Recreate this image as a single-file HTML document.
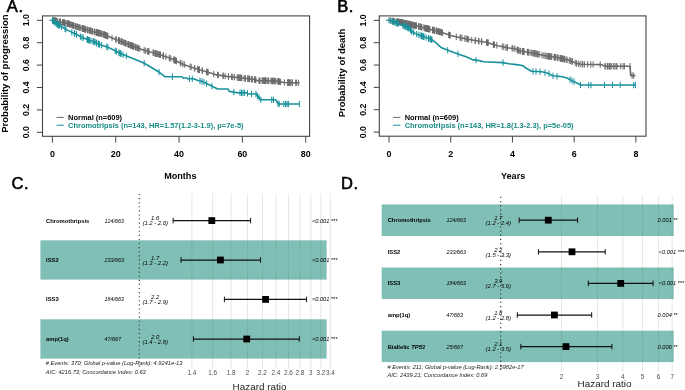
<!DOCTYPE html>
<html><head><meta charset="utf-8"><style>html,body{margin:0;padding:0;background:#fff;overflow:hidden;}svg{display:block;filter:blur(0.3px);}</style></head>
<body>
<svg width="685" height="390" viewBox="0 0 685 390" font-family='"Liberation Sans", sans-serif'>
<rect width="685" height="390" fill="#fff"/>
<rect x="42.5" y="15.9" width="267.1" height="120.4" fill="none" stroke="#444" stroke-width="1.1"/>
<line x1="36.9" y1="132.3" x2="42.5" y2="132.3" stroke="#444" stroke-width="1"/>
<text x="28.6" y="132.3" font-size="8.7" font-weight="bold" font-style="normal" text-anchor="middle" fill="#000" transform="rotate(-90 28.6 132.3)">0.0</text>
<line x1="36.9" y1="109.9" x2="42.5" y2="109.9" stroke="#444" stroke-width="1"/>
<text x="28.6" y="109.9" font-size="8.7" font-weight="bold" font-style="normal" text-anchor="middle" fill="#000" transform="rotate(-90 28.6 109.9)">0.2</text>
<line x1="36.9" y1="87.50000000000001" x2="42.5" y2="87.50000000000001" stroke="#444" stroke-width="1"/>
<text x="28.6" y="87.50000000000001" font-size="8.7" font-weight="bold" font-style="normal" text-anchor="middle" fill="#000" transform="rotate(-90 28.6 87.50000000000001)">0.4</text>
<line x1="36.9" y1="65.10000000000002" x2="42.5" y2="65.10000000000002" stroke="#444" stroke-width="1"/>
<text x="28.6" y="65.10000000000002" font-size="8.7" font-weight="bold" font-style="normal" text-anchor="middle" fill="#000" transform="rotate(-90 28.6 65.10000000000002)">0.6</text>
<line x1="36.9" y1="42.70000000000002" x2="42.5" y2="42.70000000000002" stroke="#444" stroke-width="1"/>
<text x="28.6" y="42.70000000000002" font-size="8.7" font-weight="bold" font-style="normal" text-anchor="middle" fill="#000" transform="rotate(-90 28.6 42.70000000000002)">0.8</text>
<line x1="36.9" y1="20.30000000000001" x2="42.5" y2="20.30000000000001" stroke="#444" stroke-width="1"/>
<text x="28.6" y="20.30000000000001" font-size="8.7" font-weight="bold" font-style="normal" text-anchor="middle" fill="#000" transform="rotate(-90 28.6 20.30000000000001)">1.0</text>
<line x1="52.4" y1="136.3" x2="52.4" y2="142.60000000000002" stroke="#444" stroke-width="1"/>
<text x="52.4" y="156.8" font-size="8.9" font-weight="bold" font-style="normal" text-anchor="middle" fill="#000">0</text>
<line x1="115.72999999999999" y1="136.3" x2="115.72999999999999" y2="142.60000000000002" stroke="#444" stroke-width="1"/>
<text x="115.72999999999999" y="156.8" font-size="8.9" font-weight="bold" font-style="normal" text-anchor="middle" fill="#000">20</text>
<line x1="179.06" y1="136.3" x2="179.06" y2="142.60000000000002" stroke="#444" stroke-width="1"/>
<text x="179.06" y="156.8" font-size="8.9" font-weight="bold" font-style="normal" text-anchor="middle" fill="#000">40</text>
<line x1="242.39000000000001" y1="136.3" x2="242.39000000000001" y2="142.60000000000002" stroke="#444" stroke-width="1"/>
<text x="242.39000000000001" y="156.8" font-size="8.9" font-weight="bold" font-style="normal" text-anchor="middle" fill="#000">60</text>
<line x1="305.71999999999997" y1="136.3" x2="305.71999999999997" y2="142.60000000000002" stroke="#444" stroke-width="1"/>
<text x="305.71999999999997" y="156.8" font-size="8.9" font-weight="bold" font-style="normal" text-anchor="middle" fill="#000">80</text>
<text x="6.8" y="11.8" font-size="16.5" font-weight="normal" font-style="normal" text-anchor="start" fill="#000" stroke="#000" stroke-width="0.6" letter-spacing="0.6">A.</text>
<text x="180.3" y="179.2" font-size="9.1" font-weight="bold" font-style="normal" text-anchor="middle" fill="#000">Months</text>
<text x="7.6" y="73.6" font-size="9.5" font-weight="bold" font-style="normal" text-anchor="middle" fill="#000" transform="rotate(-90 7.6 73.6)">Probability of progression</text>
<line x1="49.4" y1="20.3" x2="52.4" y2="20.3" stroke="#17919b" stroke-width="1.2"/>
<line x1="52.4" y1="17.3" x2="52.4" y2="23.3" stroke="#17919b" stroke-width="1"/>
<polyline points="52.4,20.3 58.5,21.5 67.4,23.4 76.4,26.6 85.4,29.3 94.3,31.9 103.3,34.3 114.6,38.9 129.2,44.7 143.8,50.3 158.4,54.2 173.0,59.3 180.8,63.2 187.6,65.9 199.3,69.8 209.6,72.8 215.4,74.6 226.9,76.4 244.2,78.3 255.0,79.6 257.3,80.6 274.6,81.0 278.1,81.4 283.8,82.5 299.4,82.9" fill="none" stroke="#6b6b6b" stroke-width="1.6" stroke-linejoin="round"/>
<path d="M64.6 19.6v6.4 M80.8 24.7v6.4 M71.6 21.7v6.4 M84.0 25.7v6.4 M85.2 26.0v6.4 M55.5 17.7v6.4 M52.7 17.2v6.4 M96.4 29.3v6.4 M65.7 19.8v6.4 M64.4 19.6v6.4 M104.8 31.7v6.4 M76.9 23.6v6.4 M96.3 29.2v6.4 M77.2 23.7v6.4 M85.9 26.2v6.4 M60.0 18.6v6.4 M85.6 26.2v6.4 M98.0 29.7v6.4 M79.7 24.4v6.4 M91.3 27.8v6.4 M87.6 26.7v6.4 M55.4 17.7v6.4 M92.2 28.1v6.4 M83.3 25.5v6.4 M68.0 20.4v6.4 M53.6 17.3v6.4 M97.9 29.7v6.4 M77.1 23.6v6.4 M90.1 27.5v6.4 M98.6 29.8v6.4 M89.8 27.4v6.4 M100.8 30.4v6.4 M72.9 22.2v6.4 M94.4 28.7v6.4 M75.6 23.1v6.4 M101.6 30.6v6.4 M98.6 29.8v6.4 M57.2 18.0v6.4 M59.2 18.5v6.4 M63.5 19.4v6.4 M103.2 31.1v6.4 M75.1 22.9v6.4 M85.2 26.0v6.4 M68.0 20.4v6.4 M78.9 24.1v6.4 M72.5 22.0v6.4 M70.6 21.3v6.4 M83.0 25.4v6.4 M83.0 25.4v6.4 M99.9 30.2v6.4 M88.1 26.9v6.4 M101.2 30.5v6.4 M97.4 29.5v6.4 M104.5 31.6v6.4 M87.6 26.7v6.4 M60.6 18.8v6.4 M97.6 29.6v6.4 M103.1 31.1v6.4 M99.9 30.2v6.4 M82.2 25.1v6.4 M89.8 27.4v6.4 M63.2 19.3v6.4 M96.1 29.2v6.4 M82.4 25.2v6.4 M67.1 20.1v6.4 M55.4 17.7v6.4 M97.3 29.5v6.4 M104.5 31.6v6.4 M56.7 17.9v6.4 M94.4 28.7v6.4 M73.8 22.5v6.4 M60.0 18.6v6.4 M67.6 20.3v6.4 M92.7 28.2v6.4 M98.3 29.8v6.4 M54.3 17.5v6.4 M84.6 25.9v6.4 M54.4 17.5v6.4 M90.1 27.5v6.4 M69.5 21.0v6.4 M98.7 29.9v6.4 M104.0 31.4v6.4 M78.8 24.1v6.4 M104.9 31.8v6.4 M68.4 20.6v6.4 M56.1 17.8v6.4 M83.8 25.6v6.4 M53.7 17.3v6.4 M62.5 19.1v6.4 M73.6 22.4v6.4 M132.5 42.8v6.4 M112.0 34.7v6.4 M106.9 32.6v6.4 M144.1 47.2v6.4 M119.1 37.5v6.4 M148.1 48.3v6.4 M145.3 47.5v6.4 M122.0 38.6v6.4 M125.7 40.1v6.4 M128.4 41.2v6.4 M134.0 43.3v6.4 M131.8 42.5v6.4 M130.2 41.9v6.4 M132.9 42.9v6.4 M147.3 48.0v6.4 M127.8 41.0v6.4 M124.4 39.6v6.4 M137.4 44.7v6.4 M115.7 36.1v6.4 M118.5 37.3v6.4 M149.0 48.5v6.4 M128.5 41.2v6.4 M129.7 41.7v6.4 M105.5 32.0v6.4 M123.7 39.3v6.4 M131.1 42.2v6.4 M105.9 32.2v6.4 M132.7 42.8v6.4 M133.4 43.1v6.4 M107.7 32.9v6.4 M133.2 43.0v6.4 M126.0 40.2v6.4 M135.6 43.9v6.4 M120.9 38.2v6.4 M136.8 44.4v6.4 M138.2 45.0v6.4 M106.0 32.2v6.4 M107.7 32.9v6.4 M135.4 43.9v6.4 M148.3 48.3v6.4 M116.3 36.4v6.4 M125.5 40.0v6.4 M131.7 42.4v6.4 M119.4 37.6v6.4 M121.4 38.4v6.4 M119.1 37.5v6.4 M121.6 38.5v6.4 M131.8 42.5v6.4 M118.5 37.3v6.4 M122.0 38.6v6.4 M139.8 45.5v6.4 M106.2 32.3v6.4 M130.6 42.0v6.4 M138.1 44.9v6.4 M119.0 37.4v6.4 M156.7 50.5v6.4 M174.1 56.7v6.4 M157.2 50.7v6.4 M155.6 50.3v6.4 M163.1 52.6v6.4 M170.9 55.4v6.4 M153.1 49.6v6.4 M159.7 51.4v6.4 M160.0 51.6v6.4 M175.0 57.1v6.4 M163.2 52.7v6.4 M175.7 57.4v6.4 M155.1 50.1v6.4 M160.1 51.6v6.4 M169.5 54.9v6.4 M176.5 57.9v6.4 M163.5 52.8v6.4 M156.8 50.6v6.4 M153.6 49.7v6.4 M165.9 53.6v6.4 M155.7 50.3v6.4 M174.2 56.7v6.4 M175.2 57.2v6.4 M155.5 50.2v6.4 M158.4 51.0v6.4 M174.2 56.7v6.4 M169.3 54.8v6.4 M174.2 56.7v6.4 M160.4 51.7v6.4 M153.9 49.8v6.4 M199.0 66.5v6.4 M231.6 73.7v6.4 M197.6 66.0v6.4 M202.5 67.5v6.4 M207.1 68.9v6.4 M207.3 68.9v6.4 M206.6 68.7v6.4 M239.8 74.6v6.4 M190.1 63.5v6.4 M180.3 59.8v6.4 M241.3 74.8v6.4 M237.2 74.3v6.4 M244.1 75.1v6.4 M208.2 69.2v6.4 M241.8 74.8v6.4 M240.3 74.7v6.4 M194.4 65.0v6.4 M228.5 73.4v6.4 M234.4 74.0v6.4 M223.1 72.6v6.4 M213.7 70.9v6.4 M198.8 66.4v6.4 M202.2 67.4v6.4 M194.8 65.1v6.4 M184.4 61.4v6.4 M218.3 71.8v6.4 M198.7 66.4v6.4 M232.7 73.8v6.4 M182.9 60.8v6.4 M238.7 74.5v6.4 M225.1 72.9v6.4 M240.1 74.6v6.4 M238.3 74.4v6.4 M238.5 74.5v6.4 M217.5 71.7v6.4 M180.9 60.0v6.4 M228.4 73.4v6.4 M191.2 63.9v6.4 M199.5 66.7v6.4 M223.1 72.6v6.4 M273.9 77.8v6.4 M267.8 77.6v6.4 M296.6 79.6v6.4 M278.7 78.3v6.4 M263.8 77.5v6.4 M258.9 77.4v6.4 M292.4 79.5v6.4 M271.2 77.7v6.4 M288.0 79.4v6.4 M264.4 77.6v6.4 M255.9 76.8v6.4 M274.4 77.8v6.4 M289.9 79.5v6.4 M254.4 76.3v6.4 M288.5 79.4v6.4 M295.7 79.6v6.4 M289.3 79.4v6.4 M290.3 79.5v6.4 M245.4 75.2v6.4 M279.6 78.5v6.4 M292.4 79.5v6.4 M247.7 75.5v6.4 M259.9 77.5v6.4 M259.8 77.5v6.4 M274.0 77.8v6.4 M268.3 77.7v6.4 M271.0 77.7v6.4 M287.7 79.4v6.4 M245.1 75.2v6.4 M248.0 75.6v6.4 M252.0 76.0v6.4 M251.9 76.0v6.4 M248.8 75.6v6.4 M298.6 79.7v6.4 M292.0 79.5v6.4 M249.7 75.8v6.4 M272.6 77.8v6.4 M262.4 77.5v6.4 M262.3 77.5v6.4 M264.3 77.6v6.4 M280.6 78.7v6.4 M277.3 78.1v6.4 M264.8 77.6v6.4 M255.5 76.6v6.4 M263.1 77.5v6.4 M251.8 76.0v6.4 M275.6 77.9v6.4 M284.4 79.3v6.4 M265.9 77.6v6.4 M249.4 75.7v6.4 M254.8 76.4v6.4 M265.5 77.6v6.4 M278.2 78.2v6.4 M288.0 79.4v6.4 M265.9 77.6v6.4 M289.1 79.4v6.4 M279.3 78.4v6.4 M268.7 77.7v6.4 M265.5 77.6v6.4 M272.3 77.7v6.4" stroke="#6b6b6b" stroke-width="1.0" fill="none"/>
<polyline points="52.4,20.4 54.0,21.9 58.5,25.1 62.9,27.5 67.4,30.1 71.9,32.4 76.4,34.2 80.9,36.9 85.4,38.7 89.8,40.5 94.3,41.8 98.8,44.1 102.4,45.5 107.3,46.9 114.6,50.5 121.9,54.2 129.2,57.1 136.5,60.0 143.8,63.0 151.1,67.3 158.4,71.7 162.8,74.8 165.0,76.8 181.9,76.8 183.1,78.0 186.5,78.0 187.7,78.8 193.5,78.8 198.1,80.4 202.7,81.6 206.1,83.3 209.6,85.0 213.1,86.7 217.7,89.0 228.1,89.0 229.2,91.4 236.1,92.5 238.4,92.9 246.9,92.8 248.1,94.0 256.1,94.0 257.3,95.8 259.6,98.1 260.8,99.8 275.8,99.8 276.9,101.9 278.1,104.0 299.4,104.0" fill="none" stroke="#17919b" stroke-width="1.6" stroke-linejoin="round"/>
<path d="M89.3 37.1v6.4 M74.3 30.2v6.4 M88.8 36.9v6.4 M76.4 31.0v6.4 M65.0 25.5v6.4 M80.4 33.4v6.4 M88.8 36.9v6.4 M55.8 20.0v6.4 M74.5 30.2v6.4 M74.6 30.3v6.4 M98.6 40.8v6.4 M101.6 42.0v6.4 M71.8 29.2v6.4 M99.6 41.2v6.4 M93.9 38.5v6.4 M65.9 26.0v6.4 M76.6 31.1v6.4 M58.5 21.9v6.4 M95.1 39.0v6.4 M87.1 36.2v6.4 M99.0 41.0v6.4 M94.0 38.5v6.4 M87.4 36.3v6.4 M90.9 37.6v6.4 M81.9 34.1v6.4 M57.5 21.2v6.4 M83.2 34.6v6.4 M52.7 17.5v6.4 M59.6 22.5v6.4 M93.0 38.2v6.4 M54.3 18.9v6.4 M56.9 20.7v6.4 M57.3 21.0v6.4 M98.7 40.8v6.4 M61.5 23.5v6.4 M53.2 18.0v6.4 M96.6 39.8v6.4 M58.4 21.8v6.4 M96.7 39.8v6.4 M87.7 36.4v6.4 M121.1 50.6v6.4 M123.1 51.5v6.4 M116.4 48.2v6.4 M120.4 50.2v6.4 M106.7 43.5v6.4 M119.8 49.9v6.4 M115.2 47.6v6.4 M118.9 49.5v6.4 M107.9 44.0v6.4 M126.3 52.7v6.4 M144.2 60.0v6.4 M159.0 68.9v6.4 M172.4 73.6v6.4 M189.4 75.6v6.4 M192.3 75.6v6.4 M200.0 77.7v6.4 M202.0 78.2v6.4 M204.0 79.0v6.4 M206.5 80.3v6.4 M211.9 82.9v6.4 M233.8 88.9v6.4 M240.0 89.7v6.4 M241.5 89.7v6.4 M243.0 89.6v6.4 M244.6 89.6v6.4 M247.5 90.2v6.4 M251.5 90.8v6.4 M256.0 90.8v6.4 M257.5 92.8v6.4 M259.0 94.3v6.4 M260.8 96.6v6.4 M271.7 96.6v6.4 M273.4 96.6v6.4 M278.0 100.6v6.4 M279.2 100.8v6.4 M283.8 100.8v6.4 M285.5 100.8v6.4 M287.0 100.8v6.4 M288.4 100.8v6.4 M299.4 100.8v6.4" stroke="#17919b" stroke-width="1.0" fill="none"/>
<line x1="56.599999999999994" y1="117.4" x2="63.8" y2="117.4" stroke="#6b6b6b" stroke-width="1"/>
<line x1="56.599999999999994" y1="125.2" x2="63.8" y2="125.2" stroke="#17919b" stroke-width="1"/>
<text x="68.1" y="120.3" font-size="7.45" font-weight="bold" font-style="normal" text-anchor="start" fill="#000">Normal (n=609)</text>
<text x="68.1" y="128.1" font-size="7.45" font-weight="bold" font-style="normal" text-anchor="start" fill="#178a84">Chromotripsis (n=143, HR=1.57(1.2-3-1.9), p=7e-5)</text>
<rect x="379.3" y="15.9" width="266.7" height="120.29999999999998" fill="none" stroke="#444" stroke-width="1.1"/>
<line x1="373.7" y1="132.1" x2="379.3" y2="132.1" stroke="#444" stroke-width="1"/>
<text x="365.8" y="132.1" font-size="8.7" font-weight="bold" font-style="normal" text-anchor="middle" fill="#000" transform="rotate(-90 365.8 132.1)">0.0</text>
<line x1="373.7" y1="109.75" x2="379.3" y2="109.75" stroke="#444" stroke-width="1"/>
<text x="365.8" y="109.75" font-size="8.7" font-weight="bold" font-style="normal" text-anchor="middle" fill="#000" transform="rotate(-90 365.8 109.75)">0.2</text>
<line x1="373.7" y1="87.39999999999999" x2="379.3" y2="87.39999999999999" stroke="#444" stroke-width="1"/>
<text x="365.8" y="87.39999999999999" font-size="8.7" font-weight="bold" font-style="normal" text-anchor="middle" fill="#000" transform="rotate(-90 365.8 87.39999999999999)">0.4</text>
<line x1="373.7" y1="65.04999999999998" x2="379.3" y2="65.04999999999998" stroke="#444" stroke-width="1"/>
<text x="365.8" y="65.04999999999998" font-size="8.7" font-weight="bold" font-style="normal" text-anchor="middle" fill="#000" transform="rotate(-90 365.8 65.04999999999998)">0.6</text>
<line x1="373.7" y1="42.69999999999999" x2="379.3" y2="42.69999999999999" stroke="#444" stroke-width="1"/>
<text x="365.8" y="42.69999999999999" font-size="8.7" font-weight="bold" font-style="normal" text-anchor="middle" fill="#000" transform="rotate(-90 365.8 42.69999999999999)">0.8</text>
<line x1="373.7" y1="20.349999999999994" x2="379.3" y2="20.349999999999994" stroke="#444" stroke-width="1"/>
<text x="365.8" y="20.349999999999994" font-size="8.7" font-weight="bold" font-style="normal" text-anchor="middle" fill="#000" transform="rotate(-90 365.8 20.349999999999994)">1.0</text>
<line x1="389.0" y1="136.2" x2="389.0" y2="142.5" stroke="#444" stroke-width="1"/>
<text x="389.0" y="156.8" font-size="8.9" font-weight="bold" font-style="normal" text-anchor="middle" fill="#000">0</text>
<line x1="450.72" y1="136.2" x2="450.72" y2="142.5" stroke="#444" stroke-width="1"/>
<text x="450.72" y="156.8" font-size="8.9" font-weight="bold" font-style="normal" text-anchor="middle" fill="#000">2</text>
<line x1="512.44" y1="136.2" x2="512.44" y2="142.5" stroke="#444" stroke-width="1"/>
<text x="512.44" y="156.8" font-size="8.9" font-weight="bold" font-style="normal" text-anchor="middle" fill="#000">4</text>
<line x1="574.16" y1="136.2" x2="574.16" y2="142.5" stroke="#444" stroke-width="1"/>
<text x="574.16" y="156.8" font-size="8.9" font-weight="bold" font-style="normal" text-anchor="middle" fill="#000">6</text>
<line x1="635.88" y1="136.2" x2="635.88" y2="142.5" stroke="#444" stroke-width="1"/>
<text x="635.88" y="156.8" font-size="8.9" font-weight="bold" font-style="normal" text-anchor="middle" fill="#000">8</text>
<text x="337.2" y="11.8" font-size="16.5" font-weight="normal" font-style="normal" text-anchor="start" fill="#000" stroke="#000" stroke-width="0.6" letter-spacing="0.6">B.</text>
<text x="513.1" y="179.2" font-size="9.1" font-weight="bold" font-style="normal" text-anchor="middle" fill="#000">Years</text>
<text x="345.0" y="73.0" font-size="9.5" font-weight="bold" font-style="normal" text-anchor="middle" fill="#000" transform="rotate(-90 345.0 73.0)">Probability of death</text>
<line x1="386" y1="20.3" x2="389" y2="20.3" stroke="#17919b" stroke-width="1.2"/>
<line x1="389" y1="17.3" x2="389" y2="23.3" stroke="#17919b" stroke-width="1"/>
<polyline points="389.0,20.3 399.9,22.2 408.9,24.0 417.9,26.2 426.8,28.5 435.8,30.7 442.0,32.5 451.5,35.8 463.1,38.2 474.6,40.5 486.1,42.3 497.7,45.7 509.2,48.0 514.2,48.6 520.0,51.0 528.1,52.2 537.3,54.0 545.4,55.8 556.9,57.5 565.0,59.3 571.9,61.3 576.4,63.4 580.9,64.2 601.5,64.6 605.0,66.3 630.1,66.3 630.7,75.6 635.4,75.6" fill="none" stroke="#6b6b6b" stroke-width="1.6" stroke-linejoin="round"/>
<path d="M428.7 25.8v6.4 M438.5 28.3v6.4 M392.2 17.7v6.4 M406.2 20.3v6.4 M418.9 23.3v6.4 M432.9 26.8v6.4 M401.8 19.4v6.4 M398.5 18.8v6.4 M402.2 19.5v6.4 M421.6 24.0v6.4 M428.9 25.8v6.4 M409.9 21.0v6.4 M408.5 20.7v6.4 M410.0 21.1v6.4 M407.6 20.5v6.4 M411.2 21.4v6.4 M393.4 17.9v6.4 M415.5 22.4v6.4 M440.6 28.9v6.4 M410.9 21.3v6.4 M428.6 25.7v6.4 M397.5 18.6v6.4 M425.6 25.0v6.4 M429.1 25.9v6.4 M424.7 24.8v6.4 M416.4 22.6v6.4 M414.6 22.2v6.4 M423.1 24.3v6.4 M436.6 27.7v6.4 M396.9 18.5v6.4 M394.1 18.0v6.4 M428.7 25.8v6.4 M437.6 28.0v6.4 M416.4 22.6v6.4 M412.5 21.7v6.4 M427.1 25.4v6.4 M398.9 18.8v6.4 M403.2 19.7v6.4 M399.6 18.9v6.4 M420.0 23.6v6.4 M405.7 20.2v6.4 M401.3 19.3v6.4 M425.6 25.0v6.4 M439.5 28.6v6.4 M404.7 20.0v6.4 M426.4 25.2v6.4 M410.9 21.3v6.4 M434.2 27.1v6.4 M420.0 23.5v6.4 M403.2 19.7v6.4 M400.5 19.1v6.4 M390.2 17.3v6.4 M414.4 22.1v6.4 M409.3 20.9v6.4 M398.1 18.7v6.4 M408.1 20.6v6.4 M406.1 20.2v6.4 M430.0 26.1v6.4 M396.6 18.4v6.4 M441.5 29.2v6.4 M414.4 22.1v6.4 M420.7 23.7v6.4 M413.8 22.0v6.4 M433.2 26.9v6.4 M432.5 26.7v6.4 M418.5 23.2v6.4 M414.5 22.2v6.4 M427.2 25.4v6.4 M434.4 27.2v6.4 M410.2 21.1v6.4 M427.9 25.6v6.4 M439.9 28.7v6.4 M413.8 22.0v6.4 M401.2 19.3v6.4 M401.4 19.3v6.4 M427.0 25.4v6.4 M424.8 24.8v6.4 M439.8 28.7v6.4 M434.3 27.1v6.4 M401.8 19.4v6.4 M399.1 18.9v6.4 M402.7 19.6v6.4 M398.9 18.8v6.4 M426.4 25.2v6.4 M434.5 27.2v6.4 M436.7 27.8v6.4 M402.5 19.5v6.4 M434.9 27.3v6.4 M405.6 20.1v6.4 M411.4 21.4v6.4 M427.6 25.5v6.4 M393.6 17.9v6.4 M393.9 18.0v6.4 M433.2 26.9v6.4 M404.5 19.9v6.4 M466.3 35.6v6.4 M481.5 38.4v6.4 M487.9 39.6v6.4 M442.5 29.5v6.4 M464.8 35.3v6.4 M471.7 36.7v6.4 M475.0 37.4v6.4 M456.3 33.6v6.4 M481.8 38.4v6.4 M507.0 44.4v6.4 M468.6 36.1v6.4 M479.0 38.0v6.4 M450.1 32.1v6.4 M460.7 34.5v6.4 M487.2 39.4v6.4 M449.7 32.0v6.4 M502.3 43.4v6.4 M503.8 43.7v6.4 M448.6 31.6v6.4 M506.0 44.2v6.4 M467.4 35.9v6.4 M494.5 41.6v6.4 M493.5 41.3v6.4 M462.1 34.8v6.4 M488.0 39.6v6.4 M486.5 39.2v6.4 M496.8 42.2v6.4 M460.1 34.4v6.4 M493.3 41.2v6.4 M507.4 44.4v6.4 M487.8 39.6v6.4 M478.5 37.9v6.4 M449.7 32.0v6.4 M475.6 37.5v6.4 M534.7 50.3v6.4 M560.3 55.0v6.4 M557.5 54.4v6.4 M549.6 53.2v6.4 M522.7 48.2v6.4 M555.2 54.0v6.4 M554.2 53.9v6.4 M522.5 48.2v6.4 M572.3 58.3v6.4 M555.9 54.1v6.4 M518.6 47.2v6.4 M575.2 59.7v6.4 M519.9 47.8v6.4 M533.2 50.0v6.4 M560.4 55.1v6.4 M551.8 53.5v6.4 M548.8 53.1v6.4 M555.3 54.1v6.4 M542.0 51.9v6.4 M531.9 49.7v6.4 M522.3 48.1v6.4 M514.8 45.6v6.4 M560.1 55.0v6.4 M562.8 55.6v6.4 M548.0 53.0v6.4 M561.8 55.4v6.4 M535.1 50.4v6.4 M528.6 49.1v6.4 M536.8 50.7v6.4 M571.1 57.9v6.4 M512.9 45.2v6.4 M545.3 52.6v6.4 M527.3 48.9v6.4 M563.8 55.8v6.4 M534.8 50.3v6.4 M533.3 50.0v6.4 M538.2 51.0v6.4 M547.9 53.0v6.4 M564.0 55.9v6.4 M534.7 50.3v6.4 M569.3 57.3v6.4 M517.8 46.9v6.4 M528.9 49.2v6.4 M517.0 46.5v6.4 M517.9 46.9v6.4 M564.5 56.0v6.4 M560.9 55.2v6.4 M522.9 48.2v6.4 M523.2 48.3v6.4 M539.2 51.2v6.4 M562.0 55.4v6.4 M567.1 56.7v6.4 M562.4 55.5v6.4 M551.4 53.5v6.4 M520.3 47.8v6.4 M537.9 50.9v6.4 M523.6 48.3v6.4 M546.9 52.8v6.4 M549.8 53.2v6.4 M524.1 48.4v6.4 M527.5 48.9v6.4 M564.7 56.0v6.4 M512.1 45.1v6.4 M566.2 56.5v6.4 M572.4 58.3v6.4 M576.5 60.2v6.4 M536.8 50.7v6.4 M548.7 53.1v6.4 M550.8 53.4v6.4 M554.4 53.9v6.4 M578.4 60.6v6.4 M558.1 54.6v6.4 M531.0 49.6v6.4 M570.2 57.6v6.4 M543.9 52.3v6.4 M613.7 63.1v6.4 M620.7 63.1v6.4 M580.1 60.9v6.4 M623.1 63.1v6.4 M617.1 63.1v6.4 M607.5 63.1v6.4 M609.3 63.1v6.4 M605.8 63.1v6.4 M590.8 61.2v6.4 M609.7 63.1v6.4 M582.1 61.0v6.4 M608.0 63.1v6.4 M616.2 63.1v6.4 M604.9 63.0v6.4 M611.7 63.1v6.4 M633.7 72.4v6.4 M630.0 63.1v6.4 M587.6 61.1v6.4 M624.4 63.1v6.4 M614.9 63.1v6.4 M582.8 61.0v6.4 M600.2 61.4v6.4 M593.1 61.2v6.4 M584.4 61.1v6.4 M610.2 63.1v6.4 M632.1 72.4v6.4" stroke="#6b6b6b" stroke-width="1.0" fill="none"/>
<polyline points="389.0,20.4 391.0,21.0 395.5,22.6 399.9,24.4 404.4,26.2 408.9,28.2 411.6,31.3 416.1,33.9 422.4,36.2 428.6,38.4 432.2,39.8 435.8,42.7 441.0,47.4 449.2,50.8 457.3,53.7 465.4,56.5 472.3,59.6 479.2,60.6 483.8,61.7 502.3,62.6 509.2,63.7 516.5,64.6 522.3,65.5 526.3,68.3 531.5,71.3 541.9,71.8 548.8,73.6 552.3,75.8 562.7,76.8 567.4,78.2 571.9,80.6 576.4,82.8 580.5,85.0 635.4,85.0" fill="none" stroke="#17919b" stroke-width="1.6" stroke-linejoin="round"/>
<path d="M403.9 22.8v6.4 M429.0 35.4v6.4 M421.0 32.5v6.4 M395.2 19.3v6.4 M428.5 35.2v6.4 M416.7 30.9v6.4 M431.6 36.4v6.4 M421.9 32.8v6.4 M423.0 33.2v6.4 M404.8 23.2v6.4 M426.1 34.3v6.4 M431.9 36.5v6.4 M428.6 35.2v6.4 M409.1 25.2v6.4 M423.8 33.5v6.4 M411.3 27.8v6.4 M394.0 18.9v6.4 M391.0 17.8v6.4 M392.6 18.4v6.4 M398.2 20.5v6.4 M396.4 19.8v6.4 M411.9 28.3v6.4 M421.2 32.5v6.4 M413.7 29.3v6.4 M408.4 24.8v6.4 M418.9 31.7v6.4 M403.0 22.4v6.4 M410.4 26.7v6.4 M423.8 33.5v6.4 M407.5 24.4v6.4 M397.3 20.1v6.4 M430.4 35.9v6.4 M422.1 32.9v6.4 M405.9 23.7v6.4 M406.1 23.7v6.4 M447.7 47.0v6.4 M458.0 50.7v6.4 M476.0 56.9v6.4 M503.0 59.5v6.4 M533.0 68.2v6.4 M536.0 68.3v6.4 M540.0 68.5v6.4 M545.0 69.4v6.4 M549.0 70.5v6.4 M553.0 72.7v6.4 M557.0 73.1v6.4 M570.0 76.4v6.4 M572.0 77.4v6.4 M574.0 78.4v6.4 M580.5 81.8v6.4 M588.7 81.8v6.4 M591.0 81.8v6.4 M604.5 81.8v6.4 M612.6 81.8v6.4 M620.2 81.8v6.4 M633.7 81.8v6.4 M635.4 81.8v6.4" stroke="#17919b" stroke-width="1.0" fill="none"/>
<line x1="393.2" y1="117.4" x2="400.4" y2="117.4" stroke="#6b6b6b" stroke-width="1"/>
<line x1="393.2" y1="125.2" x2="400.4" y2="125.2" stroke="#17919b" stroke-width="1"/>
<text x="404.7" y="120.3" font-size="7.45" font-weight="bold" font-style="normal" text-anchor="start" fill="#000">Normal (n=609)</text>
<text x="404.7" y="128.1" font-size="7.45" font-weight="bold" font-style="normal" text-anchor="start" fill="#178a84">Chromotripsis (n=143, HR=1.8(1.3-2.3), p=5e-05)</text>
<line x1="191.9" y1="193.5" x2="191.9" y2="368.8" stroke="#e6e6e6" stroke-width="1"/>
<line x1="212.7" y1="193.5" x2="212.7" y2="368.8" stroke="#e6e6e6" stroke-width="1"/>
<line x1="231.1" y1="193.5" x2="231.1" y2="368.8" stroke="#e6e6e6" stroke-width="1"/>
<line x1="247.5" y1="193.5" x2="247.5" y2="368.8" stroke="#e6e6e6" stroke-width="1"/>
<line x1="262.4" y1="193.5" x2="262.4" y2="368.8" stroke="#e6e6e6" stroke-width="1"/>
<line x1="276.0" y1="193.5" x2="276.0" y2="368.8" stroke="#e6e6e6" stroke-width="1"/>
<line x1="288.5" y1="193.5" x2="288.5" y2="368.8" stroke="#e6e6e6" stroke-width="1"/>
<line x1="300.0" y1="193.5" x2="300.0" y2="368.8" stroke="#e6e6e6" stroke-width="1"/>
<line x1="310.8" y1="193.5" x2="310.8" y2="368.8" stroke="#e6e6e6" stroke-width="1"/>
<line x1="320.8" y1="193.5" x2="320.8" y2="368.8" stroke="#e6e6e6" stroke-width="1"/>
<line x1="330.3" y1="193.5" x2="330.3" y2="368.8" stroke="#e6e6e6" stroke-width="1"/>
<rect x="40.4" y="240.3" width="286.20000000000005" height="39.30000000000001" fill="#80bfb5"/>
<rect x="40.4" y="319.3" width="286.20000000000005" height="39.30000000000001" fill="#80bfb5"/>
<line x1="191.9" y1="240.3" x2="191.9" y2="279.6" stroke="#000" stroke-opacity="0.07" stroke-width="1"/>
<line x1="191.9" y1="319.3" x2="191.9" y2="358.6" stroke="#000" stroke-opacity="0.07" stroke-width="1"/>
<text x="191.9" y="374.9" font-size="6.3" font-weight="normal" font-style="normal" text-anchor="middle" fill="#4d4d4d">1.4</text>
<line x1="212.7" y1="240.3" x2="212.7" y2="279.6" stroke="#000" stroke-opacity="0.07" stroke-width="1"/>
<line x1="212.7" y1="319.3" x2="212.7" y2="358.6" stroke="#000" stroke-opacity="0.07" stroke-width="1"/>
<text x="212.7" y="374.9" font-size="6.3" font-weight="normal" font-style="normal" text-anchor="middle" fill="#4d4d4d">1.6</text>
<line x1="231.1" y1="240.3" x2="231.1" y2="279.6" stroke="#000" stroke-opacity="0.07" stroke-width="1"/>
<line x1="231.1" y1="319.3" x2="231.1" y2="358.6" stroke="#000" stroke-opacity="0.07" stroke-width="1"/>
<text x="231.1" y="374.9" font-size="6.3" font-weight="normal" font-style="normal" text-anchor="middle" fill="#4d4d4d">1.8</text>
<line x1="247.5" y1="240.3" x2="247.5" y2="279.6" stroke="#000" stroke-opacity="0.07" stroke-width="1"/>
<line x1="247.5" y1="319.3" x2="247.5" y2="358.6" stroke="#000" stroke-opacity="0.07" stroke-width="1"/>
<text x="247.5" y="374.9" font-size="6.3" font-weight="normal" font-style="normal" text-anchor="middle" fill="#4d4d4d">2</text>
<line x1="262.4" y1="240.3" x2="262.4" y2="279.6" stroke="#000" stroke-opacity="0.07" stroke-width="1"/>
<line x1="262.4" y1="319.3" x2="262.4" y2="358.6" stroke="#000" stroke-opacity="0.07" stroke-width="1"/>
<text x="262.4" y="374.9" font-size="6.3" font-weight="normal" font-style="normal" text-anchor="middle" fill="#4d4d4d">2.2</text>
<line x1="276.0" y1="240.3" x2="276.0" y2="279.6" stroke="#000" stroke-opacity="0.07" stroke-width="1"/>
<line x1="276.0" y1="319.3" x2="276.0" y2="358.6" stroke="#000" stroke-opacity="0.07" stroke-width="1"/>
<text x="276.0" y="374.9" font-size="6.3" font-weight="normal" font-style="normal" text-anchor="middle" fill="#4d4d4d">2.4</text>
<line x1="288.5" y1="240.3" x2="288.5" y2="279.6" stroke="#000" stroke-opacity="0.07" stroke-width="1"/>
<line x1="288.5" y1="319.3" x2="288.5" y2="358.6" stroke="#000" stroke-opacity="0.07" stroke-width="1"/>
<text x="288.5" y="374.9" font-size="6.3" font-weight="normal" font-style="normal" text-anchor="middle" fill="#4d4d4d">2.6</text>
<line x1="300.0" y1="240.3" x2="300.0" y2="279.6" stroke="#000" stroke-opacity="0.07" stroke-width="1"/>
<line x1="300.0" y1="319.3" x2="300.0" y2="358.6" stroke="#000" stroke-opacity="0.07" stroke-width="1"/>
<text x="300.0" y="374.9" font-size="6.3" font-weight="normal" font-style="normal" text-anchor="middle" fill="#4d4d4d">2.8</text>
<line x1="310.8" y1="240.3" x2="310.8" y2="279.6" stroke="#000" stroke-opacity="0.07" stroke-width="1"/>
<line x1="310.8" y1="319.3" x2="310.8" y2="358.6" stroke="#000" stroke-opacity="0.07" stroke-width="1"/>
<text x="310.8" y="374.9" font-size="6.3" font-weight="normal" font-style="normal" text-anchor="middle" fill="#4d4d4d">3</text>
<line x1="320.8" y1="240.3" x2="320.8" y2="279.6" stroke="#000" stroke-opacity="0.07" stroke-width="1"/>
<line x1="320.8" y1="319.3" x2="320.8" y2="358.6" stroke="#000" stroke-opacity="0.07" stroke-width="1"/>
<text x="320.8" y="374.9" font-size="6.3" font-weight="normal" font-style="normal" text-anchor="middle" fill="#4d4d4d">3.2</text>
<text x="330.3" y="374.9" font-size="6.3" font-weight="normal" font-style="normal" text-anchor="middle" fill="#4d4d4d">3.4</text>
<line x1="139.3" y1="194" x2="139.3" y2="367" stroke="#333" stroke-width="1.1" stroke-dasharray="1.1 2.985"/>
<line x1="173.1" y1="220.6" x2="250.6" y2="220.6" stroke="#111" stroke-width="1.25"/>
<line x1="173.1" y1="217.79999999999998" x2="173.1" y2="223.4" stroke="#111" stroke-width="1"/>
<line x1="250.6" y1="217.79999999999998" x2="250.6" y2="223.4" stroke="#111" stroke-width="1"/>
<rect x="208.4" y="217.2" width="6.8" height="6.8" fill="#000"/>
<text x="46.1" y="222.6" font-size="5.8" font-weight="bold" font-style="normal" text-anchor="start" fill="#000">Chromothripsis</text>
<text x="104.4" y="222.6" font-size="5.4" font-weight="normal" font-style="italic" text-anchor="start" fill="#000">124/663</text>
<text x="155.2" y="220.29999999999998" font-size="5.9" font-weight="normal" font-style="italic" text-anchor="middle" fill="#000">1.6</text>
<text x="155.2" y="225.35" font-size="5.9" font-weight="normal" font-style="italic" text-anchor="middle" fill="#000">(1.2 - 2.0)</text>
<text x="311.9" y="222.6" font-size="5.7" font-weight="normal" font-style="normal" text-anchor="start" fill="#000"><tspan font-style="italic">&lt;0.001</tspan> ***</text>
<line x1="181.0" y1="260.0" x2="260.4" y2="260.0" stroke="#111" stroke-width="1.25"/>
<line x1="181.0" y1="257.2" x2="181.0" y2="262.8" stroke="#111" stroke-width="1"/>
<line x1="260.4" y1="257.2" x2="260.4" y2="262.8" stroke="#111" stroke-width="1"/>
<rect x="217.0" y="256.6" width="6.8" height="6.8" fill="#000"/>
<text x="46.1" y="262.0" font-size="5.8" font-weight="bold" font-style="normal" text-anchor="start" fill="#000">ISS2</text>
<text x="104.4" y="262.0" font-size="5.4" font-weight="normal" font-style="italic" text-anchor="start" fill="#000">233/663</text>
<text x="155.2" y="259.7" font-size="5.9" font-weight="normal" font-style="italic" text-anchor="middle" fill="#000">1.7</text>
<text x="155.2" y="264.75" font-size="5.9" font-weight="normal" font-style="italic" text-anchor="middle" fill="#000">(1.3 - 2.2)</text>
<text x="311.9" y="262.0" font-size="5.7" font-weight="normal" font-style="normal" text-anchor="start" fill="#000"><tspan font-style="italic">&lt;0.001</tspan> ***</text>
<line x1="224.4" y1="299.4" x2="306.6" y2="299.4" stroke="#111" stroke-width="1.25"/>
<line x1="224.4" y1="296.59999999999997" x2="224.4" y2="302.2" stroke="#111" stroke-width="1"/>
<line x1="306.6" y1="296.59999999999997" x2="306.6" y2="302.2" stroke="#111" stroke-width="1"/>
<rect x="262.20000000000005" y="296.0" width="6.8" height="6.8" fill="#000"/>
<text x="46.1" y="301.4" font-size="5.8" font-weight="bold" font-style="normal" text-anchor="start" fill="#000">ISS3</text>
<text x="104.4" y="301.4" font-size="5.4" font-weight="normal" font-style="italic" text-anchor="start" fill="#000">184/663</text>
<text x="155.2" y="299.09999999999997" font-size="5.9" font-weight="normal" font-style="italic" text-anchor="middle" fill="#000">2.2</text>
<text x="155.2" y="304.15" font-size="5.9" font-weight="normal" font-style="italic" text-anchor="middle" fill="#000">(1.7 - 2.9)</text>
<text x="311.9" y="301.4" font-size="5.7" font-weight="normal" font-style="normal" text-anchor="start" fill="#000"><tspan font-style="italic">&lt;0.001</tspan> ***</text>
<line x1="193.4" y1="339.0" x2="299.3" y2="339.0" stroke="#111" stroke-width="1.25"/>
<line x1="193.4" y1="336.2" x2="193.4" y2="341.8" stroke="#111" stroke-width="1"/>
<line x1="299.3" y1="336.2" x2="299.3" y2="341.8" stroke="#111" stroke-width="1"/>
<rect x="243.29999999999998" y="335.6" width="6.8" height="6.8" fill="#000"/>
<text x="46.1" y="341.0" font-size="5.8" font-weight="bold" font-style="normal" text-anchor="start" fill="#000">amp(1q)</text>
<text x="104.4" y="341.0" font-size="5.4" font-weight="normal" font-style="italic" text-anchor="start" fill="#000">47/667</text>
<text x="155.2" y="338.7" font-size="5.9" font-weight="normal" font-style="italic" text-anchor="middle" fill="#000">2.0</text>
<text x="155.2" y="343.75" font-size="5.9" font-weight="normal" font-style="italic" text-anchor="middle" fill="#000">(1.4 - 2.8)</text>
<text x="311.9" y="341.0" font-size="5.7" font-weight="normal" font-style="normal" text-anchor="start" fill="#000"><tspan font-style="italic">&lt;0.001</tspan> ***</text>
<text x="259.5" y="389.6" font-size="9.9" font-weight="normal" font-style="normal" text-anchor="middle" fill="#222">Hazard ratio</text>
<text x="11.6" y="189.0" font-size="16.5" font-weight="normal" font-style="normal" text-anchor="start" fill="#000" stroke="#000" stroke-width="0.6" letter-spacing="0.6">C.</text>
<text x="45.800000000000004" y="365.4" font-size="5.7" font-weight="normal" font-style="italic" text-anchor="start" fill="#222"># Events: 370; Global p-value (Log-Rank): 4.9241e-13</text>
<text x="45.800000000000004" y="373.7" font-size="5.7" font-weight="normal" font-style="italic" text-anchor="start" fill="#222">AIC: 4216.73; Concordance Index: 0.63</text>
<line x1="561.6" y1="195.6" x2="561.6" y2="372" stroke="#e6e6e6" stroke-width="1"/>
<line x1="597.4" y1="195.6" x2="597.4" y2="372" stroke="#e6e6e6" stroke-width="1"/>
<line x1="622.8" y1="195.6" x2="622.8" y2="372" stroke="#e6e6e6" stroke-width="1"/>
<line x1="642.5" y1="195.6" x2="642.5" y2="372" stroke="#e6e6e6" stroke-width="1"/>
<line x1="658.6" y1="195.6" x2="658.6" y2="372" stroke="#e6e6e6" stroke-width="1"/>
<line x1="672.2" y1="195.6" x2="672.2" y2="372" stroke="#e6e6e6" stroke-width="1"/>
<rect x="381.7" y="204.4" width="292.00000000000006" height="31.599999999999994" fill="#80bfb5"/>
<rect x="381.7" y="267.5" width="292.00000000000006" height="31.5" fill="#80bfb5"/>
<rect x="381.7" y="330.7" width="292.00000000000006" height="31.400000000000034" fill="#80bfb5"/>
<line x1="561.6" y1="204.4" x2="561.6" y2="236.0" stroke="#000" stroke-opacity="0.07" stroke-width="1"/>
<line x1="561.6" y1="267.5" x2="561.6" y2="299.0" stroke="#000" stroke-opacity="0.07" stroke-width="1"/>
<line x1="561.6" y1="330.7" x2="561.6" y2="362.1" stroke="#000" stroke-opacity="0.07" stroke-width="1"/>
<text x="561.6" y="378.5" font-size="6.3" font-weight="normal" font-style="normal" text-anchor="middle" fill="#4d4d4d">2</text>
<line x1="597.4" y1="204.4" x2="597.4" y2="236.0" stroke="#000" stroke-opacity="0.07" stroke-width="1"/>
<line x1="597.4" y1="267.5" x2="597.4" y2="299.0" stroke="#000" stroke-opacity="0.07" stroke-width="1"/>
<line x1="597.4" y1="330.7" x2="597.4" y2="362.1" stroke="#000" stroke-opacity="0.07" stroke-width="1"/>
<text x="597.4" y="378.5" font-size="6.3" font-weight="normal" font-style="normal" text-anchor="middle" fill="#4d4d4d">3</text>
<line x1="622.8" y1="204.4" x2="622.8" y2="236.0" stroke="#000" stroke-opacity="0.07" stroke-width="1"/>
<line x1="622.8" y1="267.5" x2="622.8" y2="299.0" stroke="#000" stroke-opacity="0.07" stroke-width="1"/>
<line x1="622.8" y1="330.7" x2="622.8" y2="362.1" stroke="#000" stroke-opacity="0.07" stroke-width="1"/>
<text x="622.8" y="378.5" font-size="6.3" font-weight="normal" font-style="normal" text-anchor="middle" fill="#4d4d4d">4</text>
<line x1="642.5" y1="204.4" x2="642.5" y2="236.0" stroke="#000" stroke-opacity="0.07" stroke-width="1"/>
<line x1="642.5" y1="267.5" x2="642.5" y2="299.0" stroke="#000" stroke-opacity="0.07" stroke-width="1"/>
<line x1="642.5" y1="330.7" x2="642.5" y2="362.1" stroke="#000" stroke-opacity="0.07" stroke-width="1"/>
<text x="642.5" y="378.5" font-size="6.3" font-weight="normal" font-style="normal" text-anchor="middle" fill="#4d4d4d">5</text>
<line x1="658.6" y1="204.4" x2="658.6" y2="236.0" stroke="#000" stroke-opacity="0.07" stroke-width="1"/>
<line x1="658.6" y1="267.5" x2="658.6" y2="299.0" stroke="#000" stroke-opacity="0.07" stroke-width="1"/>
<line x1="658.6" y1="330.7" x2="658.6" y2="362.1" stroke="#000" stroke-opacity="0.07" stroke-width="1"/>
<text x="658.6" y="378.5" font-size="6.3" font-weight="normal" font-style="normal" text-anchor="middle" fill="#4d4d4d">6</text>
<line x1="672.2" y1="204.4" x2="672.2" y2="236.0" stroke="#000" stroke-opacity="0.07" stroke-width="1"/>
<line x1="672.2" y1="267.5" x2="672.2" y2="299.0" stroke="#000" stroke-opacity="0.07" stroke-width="1"/>
<line x1="672.2" y1="330.7" x2="672.2" y2="362.1" stroke="#000" stroke-opacity="0.07" stroke-width="1"/>
<text x="672.2" y="378.5" font-size="6.3" font-weight="normal" font-style="normal" text-anchor="middle" fill="#4d4d4d">7</text>
<line x1="500.7" y1="196.8" x2="500.7" y2="370" stroke="#333" stroke-width="1.1" stroke-dasharray="1.3 2.9"/>
<line x1="519.2" y1="220.2" x2="577.6" y2="220.2" stroke="#111" stroke-width="1.25"/>
<line x1="519.2" y1="217.39999999999998" x2="519.2" y2="223.0" stroke="#111" stroke-width="1"/>
<line x1="577.6" y1="217.39999999999998" x2="577.6" y2="223.0" stroke="#111" stroke-width="1"/>
<rect x="544.9" y="216.79999999999998" width="6.8" height="6.8" fill="#000"/>
<text x="387.7" y="222.2" font-size="5.8" font-weight="bold" font-style="normal" text-anchor="start" fill="#000">Chromothripsis</text>
<text x="446.4" y="222.2" font-size="5.4" font-weight="normal" font-style="italic" text-anchor="start" fill="#000">124/663</text>
<text x="498.3" y="219.89999999999998" font-size="5.9" font-weight="normal" font-style="italic" text-anchor="middle" fill="#000">1.7</text>
<text x="498.3" y="224.95" font-size="5.9" font-weight="normal" font-style="italic" text-anchor="middle" fill="#000">(1.2 - 2.4)</text>
<text x="657.6" y="222.2" font-size="5.7" font-weight="normal" font-style="normal" text-anchor="start" fill="#000"><tspan font-style="italic">0.001</tspan> **</text>
<line x1="538.4" y1="251.8" x2="605.2" y2="251.8" stroke="#111" stroke-width="1.25"/>
<line x1="538.4" y1="249.0" x2="538.4" y2="254.60000000000002" stroke="#111" stroke-width="1"/>
<line x1="605.2" y1="249.0" x2="605.2" y2="254.60000000000002" stroke="#111" stroke-width="1"/>
<rect x="568.6" y="248.4" width="6.8" height="6.8" fill="#000"/>
<text x="387.7" y="253.8" font-size="5.8" font-weight="bold" font-style="normal" text-anchor="start" fill="#000">ISS2</text>
<text x="446.4" y="253.8" font-size="5.4" font-weight="normal" font-style="italic" text-anchor="start" fill="#000">233/663</text>
<text x="498.3" y="251.5" font-size="5.9" font-weight="normal" font-style="italic" text-anchor="middle" fill="#000">2.2</text>
<text x="498.3" y="256.55" font-size="5.9" font-weight="normal" font-style="italic" text-anchor="middle" fill="#000">(1.5 - 3.3)</text>
<text x="658.6" y="253.8" font-size="5.7" font-weight="normal" font-style="normal" text-anchor="start" fill="#000"><tspan font-style="italic">&lt;0.001</tspan> ***</text>
<line x1="588.3" y1="283.4" x2="653.1" y2="283.4" stroke="#111" stroke-width="1.25"/>
<line x1="588.3" y1="280.59999999999997" x2="588.3" y2="286.2" stroke="#111" stroke-width="1"/>
<line x1="653.1" y1="280.59999999999997" x2="653.1" y2="286.2" stroke="#111" stroke-width="1"/>
<rect x="617.3000000000001" y="280.0" width="6.8" height="6.8" fill="#000"/>
<text x="387.7" y="285.4" font-size="5.8" font-weight="bold" font-style="normal" text-anchor="start" fill="#000">ISS3</text>
<text x="446.4" y="285.4" font-size="5.4" font-weight="normal" font-style="italic" text-anchor="start" fill="#000">184/663</text>
<text x="498.3" y="283.09999999999997" font-size="5.9" font-weight="normal" font-style="italic" text-anchor="middle" fill="#000">3.9</text>
<text x="498.3" y="288.15" font-size="5.9" font-weight="normal" font-style="italic" text-anchor="middle" fill="#000">(2.7 - 5.6)</text>
<text x="658.6" y="285.4" font-size="5.7" font-weight="normal" font-style="normal" text-anchor="start" fill="#000"><tspan font-style="italic">&lt;0.001</tspan> ***</text>
<line x1="517.3" y1="315.0" x2="591.7" y2="315.0" stroke="#111" stroke-width="1.25"/>
<line x1="517.3" y1="312.2" x2="517.3" y2="317.8" stroke="#111" stroke-width="1"/>
<line x1="591.7" y1="312.2" x2="591.7" y2="317.8" stroke="#111" stroke-width="1"/>
<rect x="551.0" y="311.6" width="6.8" height="6.8" fill="#000"/>
<text x="387.7" y="317.0" font-size="5.8" font-weight="bold" font-style="normal" text-anchor="start" fill="#000">amp(1q)</text>
<text x="446.4" y="317.0" font-size="5.4" font-weight="normal" font-style="italic" text-anchor="start" fill="#000">47/663</text>
<text x="498.3" y="314.7" font-size="5.9" font-weight="normal" font-style="italic" text-anchor="middle" fill="#000">1.8</text>
<text x="498.3" y="319.75" font-size="5.9" font-weight="normal" font-style="italic" text-anchor="middle" fill="#000">(1.2 - 2.8)</text>
<text x="657.6" y="317.0" font-size="5.7" font-weight="normal" font-style="normal" text-anchor="start" fill="#000"><tspan font-style="italic">0.004</tspan> **</text>
<line x1="520.8" y1="346.6" x2="611.9" y2="346.6" stroke="#111" stroke-width="1.25"/>
<line x1="520.8" y1="343.8" x2="520.8" y2="349.40000000000003" stroke="#111" stroke-width="1"/>
<line x1="611.9" y1="343.8" x2="611.9" y2="349.40000000000003" stroke="#111" stroke-width="1"/>
<rect x="562.6" y="343.20000000000005" width="6.8" height="6.8" fill="#000"/>
<text x="387.7" y="348.6" font-size="5.8" font-weight="bold" font-style="normal" text-anchor="start" fill="#000">Biallelic <tspan font-style="italic">TP53</tspan></text>
<text x="446.4" y="348.6" font-size="5.4" font-weight="normal" font-style="italic" text-anchor="start" fill="#000">25/667</text>
<text x="498.3" y="346.3" font-size="5.9" font-weight="normal" font-style="italic" text-anchor="middle" fill="#000">2.1</text>
<text x="498.3" y="351.35" font-size="5.9" font-weight="normal" font-style="italic" text-anchor="middle" fill="#000">(1.2 - 3.5)</text>
<text x="657.6" y="348.6" font-size="5.7" font-weight="normal" font-style="normal" text-anchor="start" fill="#000"><tspan font-style="italic">0.006</tspan> **</text>
<text x="604.5" y="387.2" font-size="9.9" font-weight="normal" font-style="normal" text-anchor="middle" fill="#222">Hazard ratio</text>
<text x="341.0" y="189.0" font-size="16.5" font-weight="normal" font-style="normal" text-anchor="start" fill="#000" stroke="#000" stroke-width="0.6" letter-spacing="0.6">D.</text>
<text x="387.4" y="368.9" font-size="5.7" font-weight="normal" font-style="italic" text-anchor="start" fill="#222"># Events: 211; Global p-value (Log-Rank): 2.5982e-17</text>
<text x="387.4" y="377.2" font-size="5.7" font-weight="normal" font-style="italic" text-anchor="start" fill="#222">AIC: 2439.21; Concordance Index: 0.69</text>
</svg>
</body></html>
